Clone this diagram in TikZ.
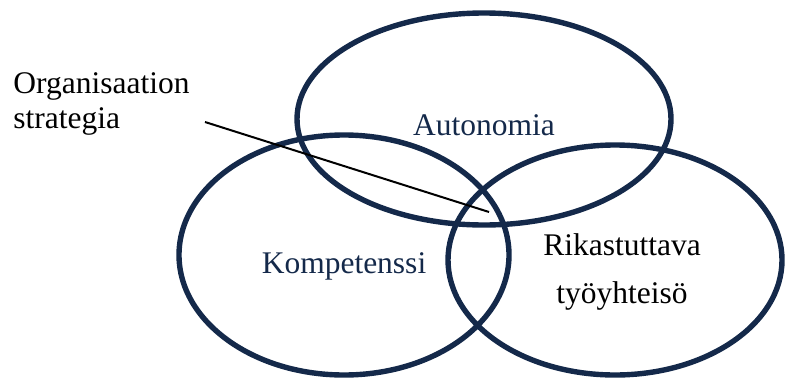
\documentclass[tikz,border=0pt]{standalone}
\usepackage{fontspec}
\setmainfont{Liberation Serif}
\usetikzlibrary{shapes.geometric}
\definecolor{navy}{HTML}{14294A}
\tikzset{
    area/.style = {ellipse, draw = navy, line width = 2.7pt, inner sep = 0pt},
    areatext/.style = {inner sep = 0pt, font = \fontsize{15.75}{17.5}\selectfont}
}
\begin{document}
\begin{tikzpicture}[x = 0.5pt, y = -0.5pt]
            \useasboundingbox (0,0) rectangle (790,380);
            \node[area, minimum width = 187pt, minimum height = 106pt] (autonomy) at (484,119) {};
            \node[area, minimum width = 165pt, minimum height = 120pt] (competence) at (344,255) {};
            \node[area, minimum width = 167pt, minimum height = 115pt] (community) at (615,260) {};
            \begin{scope}[every node/.append style = areatext]
                \node[anchor = base, text = navy] (autonomytext) at (484,135) {Autonomia};
                \node[anchor = base, text = navy] (competencetext) at (344,273) {Kompetenssi};
                \node[anchor = base] (communitytext1) at (622,255) {Rikastuttava};
                \node[anchor = base] (communitytext2) at (622,303) {työyhteisö};
                \node[anchor = base west] (strategytext1) at (13,93) {Organisaation};
                \node[anchor = base west] (strategytext2) at (13,128) {strategia};
            \end{scope}
            \coordinate (strategystart) at (205,122);
            \coordinate (strategyend) at (489,212);
            \draw[line width = 1pt] (strategystart) -- (strategyend);
        \end{tikzpicture}
\end{document}
